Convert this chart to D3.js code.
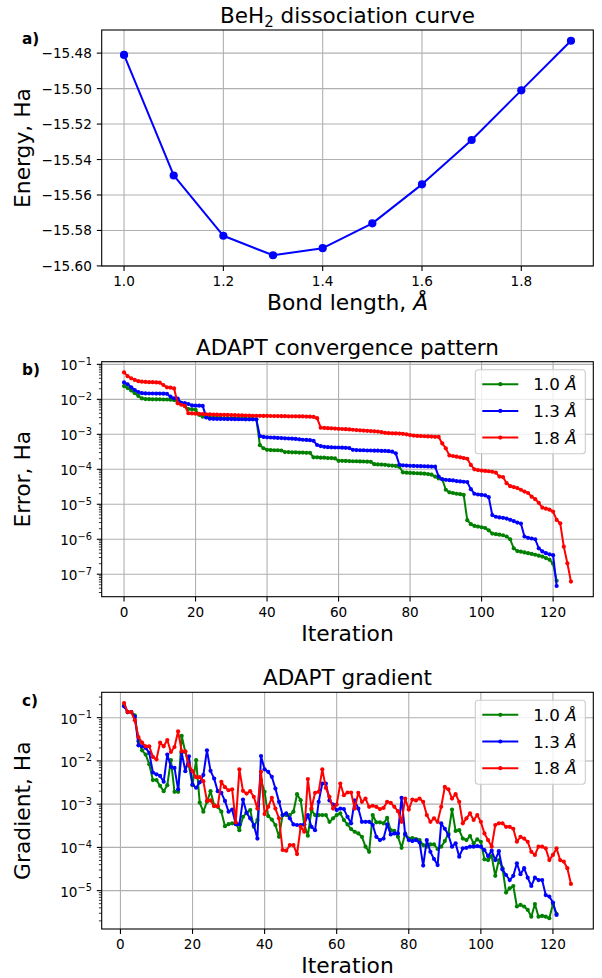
<!DOCTYPE html>
<html><head><meta charset="utf-8">
<script src="https://cdn.jsdelivr.net/npm/d3@7"></script>
<style>
body{margin:0;background:#fff}
text{font-family:"DejaVu Sans",sans-serif;fill:#000}
</style>
</head><body>
<svg id="fig" width="602" height="978"></svg>
<script>
// ---------- data ----------
const bondLengths = [1.0,1.1,1.2,1.3,1.4,1.5,1.6,1.7,1.8,1.9];
const energies = [-15.481,-15.549,-15.583,-15.594,-15.590,-15.576,-15.554,-15.529,-15.501,-15.473];

// ADAPT error (Ha), iterations 0..N
const error10 = [2.4e-2,2.1e-2,1.8e-2,1.5e-2,1.25e-2,1.06e-2,1.02e-2,1.01e-2,1.0e-2,1.0e-2,
 1.0e-2,9.9e-3,9.9e-3,9.8e-3,9.5e-3,8.5e-3,8.0e-3,6.4e-3,5.3e-3,5.2e-3,
 5.0e-3,3.6e-3,3.2e-3,3.1e-3,3.05e-3,3.0e-3,3.0e-3,2.95e-3,2.9e-3,2.9e-3,
 2.85e-3,2.85e-3,2.8e-3,2.8e-3,2.78e-3,2.75e-3,2.75e-3,2.7e-3,4.9e-4,4.0e-4,
 3.6e-4,3.55e-4,3.5e-4,3.5e-4,3.45e-4,3.1e-4,3.1e-4,3.05e-4,3.05e-4,3.0e-4,
 3.0e-4,2.95e-4,2.95e-4,2.2e-4,2.2e-4,2.15e-4,2.15e-4,2.1e-4,2.1e-4,2.05e-4,
 1.75e-4,1.75e-4,1.73e-4,1.72e-4,1.7e-4,1.7e-4,1.68e-4,1.67e-4,1.65e-4,1.63e-4,
 1.4e-4,1.38e-4,1.36e-4,1.34e-4,1.3e-4,1.28e-4,1.25e-4,1.18e-4,8.2e-5,8.0e-5,
 7.9e-5,7.8e-5,7.7e-5,7.6e-5,7.5e-5,7.3e-5,7.0e-5,6.2e-5,5.5e-5,5.2e-5,
 2.6e-5,2.2e-5,2.1e-5,2.0e-5,1.95e-5,1.85e-5,3.5e-6,2.7e-6,2.4e-6,2.3e-6,
 2.2e-6,2.1e-6,1.8e-6,1.45e-6,1.4e-6,1.35e-6,1.3e-6,1.2e-6,1.0e-6,5.5e-7,
 4.6e-7,4.4e-7,4.2e-7,4.0e-7,3.8e-7,3.6e-7,3.4e-7,3.2e-7,2.9e-7,2.6e-7,
 2.0e-7,6.5e-8];
const error13 = [3.05e-2,2.7e-2,2.2e-2,1.85e-2,1.62e-2,1.5e-2,1.48e-2,1.47e-2,1.47e-2,1.46e-2,
 1.46e-2,1.45e-2,1.44e-2,1.19e-2,1.07e-2,1.05e-2,8.0e-3,7.8e-3,7.35e-3,6.7e-3,
 6.6e-3,6.6e-3,6.5e-3,3.05e-3,2.8e-3,2.78e-3,2.76e-3,2.75e-3,2.74e-3,2.73e-3,
 2.72e-3,2.71e-3,2.7e-3,2.7e-3,2.69e-3,2.68e-3,2.68e-3,2.67e-3,8.9e-4,8.4e-4,
 8.2e-4,8.1e-4,8.0e-4,7.9e-4,7.8e-4,7.7e-4,7.6e-4,7.5e-4,7.4e-4,7.2e-4,
 7.0e-4,6.9e-4,6.8e-4,6.5e-4,4.95e-4,4.6e-4,4.4e-4,4.3e-4,4.25e-4,4.2e-4,
 4.2e-4,4.15e-4,4.1e-4,4.05e-4,3.6e-4,3.55e-4,3.5e-4,3.5e-4,3.45e-4,3.45e-4,
 3.4e-4,3.4e-4,3.35e-4,3.35e-4,3.3e-4,3.2e-4,2.86e-4,1.35e-4,1.3e-4,1.28e-4,
 1.26e-4,1.25e-4,1.24e-4,1.23e-4,1.22e-4,1.21e-4,1.2e-4,1.19e-4,6.2e-5,5.2e-5,
 5.0e-5,4.9e-5,4.8e-5,4.6e-5,4.5e-5,4.4e-5,4.3e-5,2.7e-5,2.0e-5,1.9e-5,
 1.85e-5,1.8e-5,1.6e-5,4.9e-6,4.4e-6,4.2e-6,4.1e-6,3.9e-6,3.6e-6,3.3e-6,
 3.0e-6,2.8e-6,1.2e-6,1.1e-6,1.05e-6,1.0e-6,5.5e-7,4.5e-7,4.0e-7,3.7e-7,
 3.5e-7,4.6e-8];
const error18 = [5.9e-2,4.6e-2,4.0e-2,3.6e-2,3.3e-2,3.2e-2,3.15e-2,3.1e-2,3.1e-2,3.05e-2,
 3.0e-2,2.57e-2,2.2e-2,2.15e-2,2.05e-2,7.7e-3,7.0e-3,6.5e-3,4.0e-3,3.95e-3,
 3.9e-3,3.85e-3,3.8e-3,3.75e-3,3.7e-3,3.68e-3,3.65e-3,3.62e-3,3.6e-3,3.58e-3,
 3.55e-3,3.52e-3,3.5e-3,3.48e-3,3.45e-3,3.43e-3,3.4e-3,3.4e-3,3.38e-3,3.36e-3,
 3.35e-3,3.34e-3,3.33e-3,3.32e-3,3.3e-3,3.3e-3,3.28e-3,3.27e-3,3.26e-3,3.25e-3,
 3.24e-3,3.22e-3,3.2e-3,3.15e-3,2.9e-3,1.55e-3,1.52e-3,1.5e-3,1.48e-3,1.46e-3,
 1.44e-3,1.42e-3,1.4e-3,1.38e-3,1.35e-3,1.32e-3,1.3e-3,1.28e-3,1.26e-3,1.24e-3,
 1.22e-3,1.2e-3,1.15e-3,1.1e-3,1.08e-3,1.07e-3,1.06e-3,1.05e-3,1.03e-3,1.0e-3,
 9.5e-4,9.2e-4,9.0e-4,8.9e-4,8.8e-4,8.7e-4,8.6e-4,8.5e-4,8.4e-4,5.5e-4,
 3.97e-4,2.5e-4,2.4e-4,2.3e-4,2.2e-4,2.1e-4,2.0e-4,1.33e-4,1.0e-4,9.5e-5,
 9.2e-5,9.0e-5,8.8e-5,8.5e-5,8.0e-5,6.2e-5,6.0e-5,4.0e-5,3.3e-5,3.1e-5,
 2.9e-5,2.6e-5,2.3e-5,2.1e-5,1.65e-5,1.4e-5,1.1e-5,8.0e-6,7.5e-6,7.0e-6,
 6.2e-6,3.56e-6,2.86e-6,6.15e-7,2.06e-7,6.15e-8];

// ADAPT gradient, iterations 1..N
const grad10 = [0.193,0.135,0.135,0.113,0.0285,0.0176,0.014,8.4e-3,3.6e-3,3.6e-3,
 2.65e-3,2.0e-3,2.75e-3,1.04e-2,1.93e-3,1.93e-3,3.78e-2,1.61e-2,7.7e-3,2.75e-3,
 1.04e-2,1.09e-3,6.7e-4,1.13e-3,2.0e-3,9.5e-4,8.7e-4,6.7e-4,3.1e-4,3.45e-4,
 3.6e-4,3.6e-4,2.5e-4,5.1e-4,6.4e-4,7.3e-4,3.0e-4,4.3e-4,3.6e-3,1.93e-3,
 5.3e-4,4.4e-4,3.3e-4,1.76e-4,5.6e-4,5.6e-4,5.6e-4,6.7e-4,1.7e-3,1.24e-3,
 3.4e-4,1.86e-4,7.3e-4,5.6e-4,5.6e-4,5.6e-4,5.6e-4,3.9e-4,4.7e-4,5.6e-4,
 6.1e-4,4.3e-4,3.4e-4,2.65e-4,2.3e-4,2.1e-4,1.76e-4,1.04e-4,7.9e-5,5.6e-4,
 3.8e-4,3.8e-4,3.6e-4,4.8e-4,2.5e-4,2.4e-4,1.76e-4,9.8e-5,2.1e-4,1.6e-4,
 1.65e-4,1.56e-4,1.48e-4,1.13e-4,1.04e-4,1.17e-4,1.17e-4,9.2e-5,1.04e-4,1.4e-4,
 2.1e-4,7.5e-4,2.4e-4,2.5e-4,1.6e-4,1.48e-4,1.83e-4,1.24e-4,1.53e-4,1.35e-4,
 5.3e-5,5.1e-5,6.3e-5,2.2e-5,5.1e-5,3.3e-5,9.0e-6,1.13e-5,1.28e-5,4.3e-6,
 4.7e-6,4.3e-6,3.6e-6,2.5e-6,4.9e-6,2.5e-6,2.6e-6,2.5e-6,2.3e-6,4.9e-6,
 2.9e-6];
const grad13 = [0.183,0.135,0.135,0.104,0.023,0.0218,0.02,0.0153,5.4e-3,4.9e-3,
 4.5e-3,3.3e-3,0.014,7.3e-3,6.9e-3,2.2e-3,0.0156,5.8e-3,0.0128,2.85e-3,
 2.4e-3,3.2e-3,4.7e-3,0.0176,5.9e-3,3.9e-3,2.0e-3,1.83e-3,1.19e-3,6.7e-4,
 7.5e-4,3.45e-4,3.4e-4,1.28e-3,6.3e-4,4.7e-4,3.3e-4,1.6e-4,1.3e-2,6.4e-3,
 5.6e-3,4.3e-3,2.3e-3,1.13e-3,5.6e-4,6.1e-4,4.7e-4,3.4e-4,3.3e-4,3.3e-4,
 3.4e-4,5.6e-4,3.0e-4,2.5e-4,1.13e-3,3.0e-3,3.0e-3,1.22e-3,9.8e-4,7.3e-4,
 7.9e-4,7.7e-4,5.1e-4,3.6e-4,1.22e-3,7.9e-4,3.9e-4,3.9e-4,3.9e-4,3.3e-4,
 1.76e-4,1.48e-4,1.6e-4,3.4e-4,2.0e-4,2.1e-4,2.1e-4,1.4e-3,2.0e-4,1.48e-4,
 1.4e-4,1.48e-4,1.3e-4,3.8e-5,1.48e-4,7.9e-5,5.4e-5,3.9e-5,3.6e-4,2.7e-4,
 1.93e-4,1.04e-4,1.24e-4,6.1e-5,9.5e-5,9.8e-5,1.04e-4,1.04e-4,1.07e-4,1.04e-4,
 8.7e-5,6.3e-5,8.4e-5,5.1e-5,8.2e-5,3.1e-5,2.3e-5,1.76e-5,2.2e-5,4.3e-5,
 2.4e-5,3.3e-5,2.0e-5,1.28e-5,2.0e-5,1.76e-5,1.76e-5,7.9e-6,7.3e-6,5.3e-6,
 2.74e-6];
const grad18 = [0.218,0.135,0.135,0.087,0.0358,0.0265,0.0218,0.0218,0.0124,0.0109,
 0.0265,0.0218,0.0305,0.0161,0.021,0.0484,0.0167,0.0167,7.9e-3,5.8e-3,
 4.2e-3,4.2e-3,3.4e-3,1.19e-3,1.22e-3,9.0e-4,9.0e-4,3.3e-3,2.47e-3,2.1e-3,
 2.2e-3,3.8e-4,6.4e-3,2.03e-3,1.76e-3,2.0e-3,1.48e-3,7.9e-4,5.6e-3,5.9e-4,
 8.7e-4,1.4e-3,7.9e-4,4.7e-4,8.7e-5,8.4e-5,1.13e-4,1.13e-4,7.0e-5,3.0e-4,
 2.3e-4,3.8e-3,7.9e-4,1.83e-3,1.93e-3,6.4e-3,2.38e-3,1.48e-3,7.9e-4,9.8e-4,
 3.0e-3,1.61e-3,1.86e-3,1.86e-3,7.9e-4,1.83e-3,1.13e-3,1.35e-3,8.7e-4,9.2e-4,
 8.7e-4,7.7e-4,8.2e-4,1.13e-3,1.07e-3,8.7e-4,6.9e-4,3.9e-4,1.35e-3,7.5e-4,
 1.28e-3,1.22e-3,1.35e-3,1.13e-3,5.6e-4,3.9e-4,4.7e-4,3.9e-4,8.7e-4,2.5e-3,
 2.2e-3,1.35e-3,1.7e-3,1.13e-3,3.6e-4,4.7e-4,6.1e-4,4.3e-4,5.6e-4,3.9e-4,
 2.1e-4,1.48e-4,1.04e-4,3.3e-4,3.6e-4,3.6e-4,3.0e-4,3.0e-4,2.7e-4,1.35e-4,
 1.76e-4,1.6e-4,1.35e-4,7.9e-5,6.7e-5,1.04e-4,1.04e-4,9.5e-5,5.1e-5,6.7e-5,
 9.5e-5,5.1e-5,4.7e-5,3.3e-5,1.43e-5];

const seriesLabels = ["1.0", "1.3", "1.8"];
const seriesColors = ["green", "blue", "red"];
const errorStart = 0;   // first iteration of the error curves
const gradStart = 1;    // first iteration of the gradient curves
const iterTicks = [0,20,40,60,80,100,120];
const bondTicks = [1.0,1.2,1.4,1.6,1.8];
const energyTicks = [-15.60,-15.58,-15.56,-15.54,-15.52,-15.50,-15.48];
const errorTicks = [1e-7,1e-6,1e-5,1e-4,1e-3,1e-2,1e-1];
const gradTicks = [1e-5,1e-4,1e-3,1e-2,1e-1];

// ---------- drawing ----------
const svg = d3.select("#fig");
const TICK = 4.9, MINOR = 2.8, PAD = 4.9;
const FS_TICK = 13.6, FS_LABEL = 21.8, FS_TITLE = 21.5, FS_LEG = 16.7;
const minus = s => s.replace(/-/g, "\u2212");
const iterAxis = (vals, start) => vals.map((_, i) => i + start);

function marginDomain(vals, log) {
  const f = log ? Math.log10 : (v => v);
  const lo = f(d3.min(vals)), hi = f(d3.max(vals));
  const m = (hi - lo) * 0.05;
  return log ? [Math.pow(10, lo - m), Math.pow(10, hi + m)] : [lo - m, hi + m];
}

function makePanel(o) {
  const g = svg.append("g");
  const allX = o.series.flatMap(s => s.xs), allY = o.series.flatMap(s => s.ys);
  const x = d3.scaleLinear().domain(marginDomain(allX, false)).range([o.left, o.right]);
  const y = (o.log ? d3.scaleLog() : d3.scaleLinear()).domain(marginDomain(allY, o.log)).range([o.bottom, o.top]);
  const gridC = "#b0b0b0";
  o.xticks.forEach(t => g.append("line").attr("x1", x(t)).attr("x2", x(t))
    .attr("y1", o.top).attr("y2", o.bottom).attr("stroke", gridC).attr("stroke-width", 1.1));
  o.yticks.forEach(t => g.append("line").attr("y1", y(t)).attr("y2", y(t))
    .attr("x1", o.left).attr("x2", o.right).attr("stroke", gridC).attr("stroke-width", 1.1));
  o.xticks.forEach(t => {
    g.append("line").attr("x1", x(t)).attr("x2", x(t)).attr("y1", o.bottom).attr("y2", o.bottom + TICK)
      .attr("stroke", "#000").attr("stroke-width", 1.1);
    g.append("text").attr("x", x(t)).attr("y", o.bottom + TICK + PAD + 10.3)
      .attr("text-anchor", "middle").attr("font-size", FS_TICK).text(o.xfmt(t));
  });
  o.yticks.forEach(t => {
    g.append("line").attr("x1", o.left - TICK).attr("x2", o.left).attr("y1", y(t)).attr("y2", y(t))
      .attr("stroke", "#000").attr("stroke-width", 1.1);
    if (o.log) {
      const e = Math.round(Math.log10(t));
      const tx = g.append("text").attr("x", o.left - TICK - PAD).attr("y", y(t) + 6)
        .attr("text-anchor", "end").attr("font-size", FS_TICK);
      tx.append("tspan").text("10");
      tx.append("tspan").attr("dy", -5.5).attr("font-size", 9.8).text(minus(String(e)));
    } else {
      g.append("text").attr("x", o.left - TICK - PAD).attr("y", y(t) + 5)
        .attr("text-anchor", "end").attr("font-size", FS_TICK).text(o.yfmt(t));
    }
  });
  if (o.log) {
    const [lo, hi] = y.domain();
    for (let d = Math.floor(Math.log10(lo)); d <= Math.ceil(Math.log10(hi)); d++) {
      for (let k = 2; k <= 9; k++) {
        const v = k * Math.pow(10, d);
        if (v < lo || v > hi) continue;
        g.append("line").attr("x1", o.left - MINOR).attr("x2", o.left).attr("y1", y(v)).attr("y2", y(v))
          .attr("stroke", "#000").attr("stroke-width", 0.8);
      }
    }
  }
  o.series.forEach(s => {
    const pts = s.xs.map((xv, i) => [xv, s.ys[i]]);
    g.append("path").datum(pts)
      .attr("d", d3.line().x(d => x(d[0])).y(d => y(d[1])))
      .attr("fill", "none").attr("stroke", s.color).attr("stroke-width", 2.0)
      .attr("stroke-linejoin", "round");
    g.selectAll(null).data(pts).enter().append("circle")
      .attr("cx", d => x(d[0])).attr("cy", d => y(d[1])).attr("r", o.markerR)
      .attr("fill", s.color);
  });
  g.append("rect").attr("x", o.left).attr("y", o.top).attr("width", o.right - o.left)
    .attr("height", o.bottom - o.top).attr("fill", "none").attr("stroke", "#000").attr("stroke-width", 1.1);
  const tt = g.append("text").attr("x", (o.left + o.right) / 2).attr("y", o.top - 7)
    .attr("text-anchor", "middle").attr("font-size", FS_TITLE);
  o.title(tt);
  const xl = g.append("text").attr("x", (o.left + o.right) / 2).attr("y", o.bottom + 44)
    .attr("text-anchor", "middle").attr("font-size", FS_LABEL);
  o.xlabel(xl);
  g.append("text").attr("transform", `translate(30,${(o.top + o.bottom) / 2}) rotate(-90)`)
    .attr("text-anchor", "middle").attr("font-size", FS_LABEL).text(o.ylabel);
  g.append("text").attr("x", 22).attr("y", o.top + 13.5).attr("font-size", 15.3)
    .attr("font-weight", "bold").text(o.tag);
  if (o.legend) {
    const lw = 110, lh = 84, lx = o.right - 8 - lw, ly = o.top + 8;
    g.append("rect").attr("x", lx).attr("y", ly).attr("width", lw).attr("height", lh)
      .attr("rx", 3).attr("fill", "#fff").attr("fill-opacity", 0.8)
      .attr("stroke", "#cccccc").attr("stroke-width", 1.1);
    o.series.forEach((s, i) => {
      const ry = ly + 14.5 + i * 26.7;
      g.append("line").attr("x1", lx + 7).attr("x2", lx + 43).attr("y1", ry).attr("y2", ry)
        .attr("stroke", s.color).attr("stroke-width", 2.0);
      g.append("circle").attr("cx", lx + 25).attr("cy", ry).attr("r", 2.1).attr("fill", s.color);
      const t = g.append("text").attr("x", lx + 58).attr("y", ry + 6).attr("font-size", FS_LEG);
      t.append("tspan").text(s.label + " ");
      t.append("tspan").attr("font-style", "italic").text("\u00C5");
    });
  }
}

const iterLabel = t => t.text("Iteration");
const iterFmt = d3.format("d");

// Panel a
makePanel({
  left: 101.7, right: 593.3, top: 30, bottom: 266, log: false,
  xticks: bondTicks, yticks: energyTicks,
  xfmt: d3.format(".1f"), yfmt: t => minus(d3.format(".2f")(t)),
  series: [{xs: bondLengths, ys: energies, color: "blue"}],
  markerR: 4.1,
  title: t => { t.append("tspan").text("BeH"); t.append("tspan").attr("font-size", 15).attr("dy", 4).text("2");
                t.append("tspan").attr("dy", -4).text(" dissociation curve"); },
  xlabel: t => { t.append("tspan").text("Bond length, "); t.append("tspan").attr("font-style", "italic").text("\u00C5"); },
  ylabel: "Energy, Ha", tag: "a)", legend: false
});

// Panel b
const errorSets = [error10, error13, error18];
makePanel({
  left: 101.7, right: 593.3, top: 361.7, bottom: 596.7, log: true,
  xticks: iterTicks, yticks: errorTicks, xfmt: iterFmt,
  series: errorSets.map((v, i) => ({xs: iterAxis(v, errorStart), ys: v, color: seriesColors[i], label: seriesLabels[i]})),
  markerR: 2.1,
  title: t => t.text("ADAPT convergence pattern"),
  xlabel: iterLabel, ylabel: "Error, Ha", tag: "b)", legend: true
});

// Panel c
const gradSets = [grad10, grad13, grad18];
makePanel({
  left: 101.7, right: 593.3, top: 692.3, bottom: 929, log: true,
  xticks: iterTicks, yticks: gradTicks, xfmt: iterFmt,
  series: gradSets.map((v, i) => ({xs: iterAxis(v, gradStart), ys: v, color: seriesColors[i], label: seriesLabels[i]})),
  markerR: 2.1,
  title: t => t.text("ADAPT gradient"),
  xlabel: iterLabel, ylabel: "Gradient, Ha", tag: "c)", legend: true
});
</script>
</body></html>
